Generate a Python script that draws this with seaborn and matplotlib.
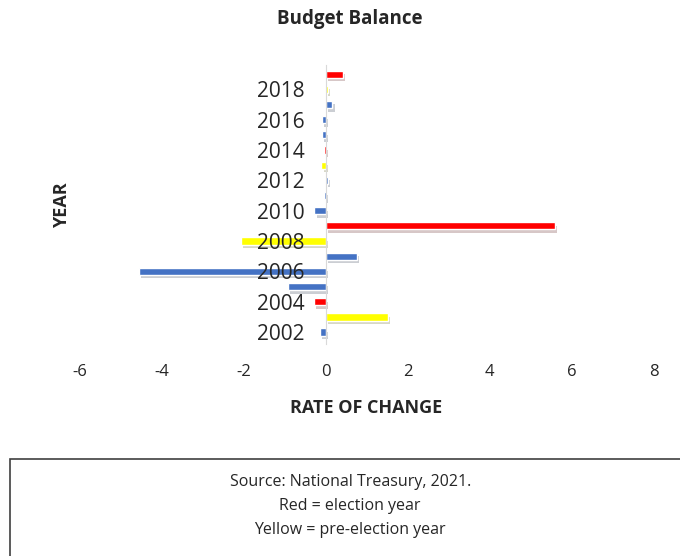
import pandas as pd
import matplotlib.pyplot as plt
import matplotlib.patheffects as pe
from matplotlib.patches import Rectangle
import seaborn as sns

years = [2002, 2003, 2004, 2005, 2006, 2007, 2008, 2009, 2010,
         2011, 2012, 2013, 2014, 2015, 2016, 2017, 2018, 2019]
rate = [-0.13, 1.52, -0.29, -0.92, -4.54, 0.76, -2.07, 5.6, -0.27,
        -0.03, 0.06, -0.1, -0.04, -0.09, -0.09, 0.17, 0.06, 0.43]
kind = ['other', 'pre', 'election', 'other', 'other', 'other', 'pre', 'election', 'other',
        'other', 'other', 'pre', 'election', 'other', 'other', 'other', 'pre', 'election']
colors = {'other': '#4472C4', 'pre': '#FFFF00', 'election': '#FF0000'}
year_ticks = [2002, 2004, 2006, 2008, 2010, 2012, 2014, 2016, 2018]
x_ticks = [-6, -4, -2, 0, 2, 4, 6, 8]
notes = ['Source: National Treasury, 2021.', 'Red = election year', 'Yellow = pre-election year']

sns.set_style('white')
plt.rcParams['font.family'] = ['Open Sans', 'DejaVu Sans']
plt.rcParams['axes.unicode_minus'] = False

df = pd.DataFrame({'year': years, 'rate': rate, 'kind': kind})

fig = plt.figure(figsize=(6.8, 5.56), dpi=100)
ax = fig.add_axes([0.117, 0.381, 0.844, 0.502])
sns.barplot(data=df, x='rate', y='year', hue='kind', palette=colors, orient='h',
            native_scale=True, dodge=False, width=0.48, saturation=1, legend=False, ax=ax)

for p in ax.patches:
    p.set_path_effects([pe.SimplePatchShadow(offset=(1.5, -2.5), alpha=0.22), pe.Normal()])

# spine position first: it resets the ticks
ax.spines['left'].set_position(('data', 0))
ax.spines['left'].set_color('#d9d9d9')
ax.spines['left'].set_linewidth(0.8)
for s in ['top', 'right', 'bottom']:
    ax.spines[s].set_visible(False)
ax.set_axisbelow(False)

ax.set_xlim(-6, 8)
ax.set_ylim(2001.2, 2019.6)
ax.set_xticks(x_ticks)
ax.set_yticks(year_ticks)
ax.set_yticklabels([str(y) for y in year_ticks])
ax.tick_params(axis='x', labelsize=12, length=0, pad=14)
ax.tick_params(axis='y', labelsize=15, length=0, pad=15)

ax.set_xlabel('RATE OF CHANGE', fontsize=13, fontweight='bold', labelpad=14)
ax.set_ylabel('')
fig.text(0.091, 0.631, 'YEAR', rotation=90, fontsize=13, fontweight='bold', ha='center', va='center')
fig.text(0.515, 0.966, 'Budget Balance', fontsize=13.5, fontweight='bold', ha='center', va='center')

box = Rectangle((10 / 680, -0.1), 0.99, 0.1 + 97 / 556, transform=fig.transFigure,
                fill=False, edgecolor='#404040', linewidth=1.2)
fig.patches.append(box)
for i, line in enumerate(notes):
    fig.text(0.515, 1 - (482 + 24 * i) / 556, line, fontsize=11.5, ha='center', va='center')

plt.savefig('out.png', dpi=100)
